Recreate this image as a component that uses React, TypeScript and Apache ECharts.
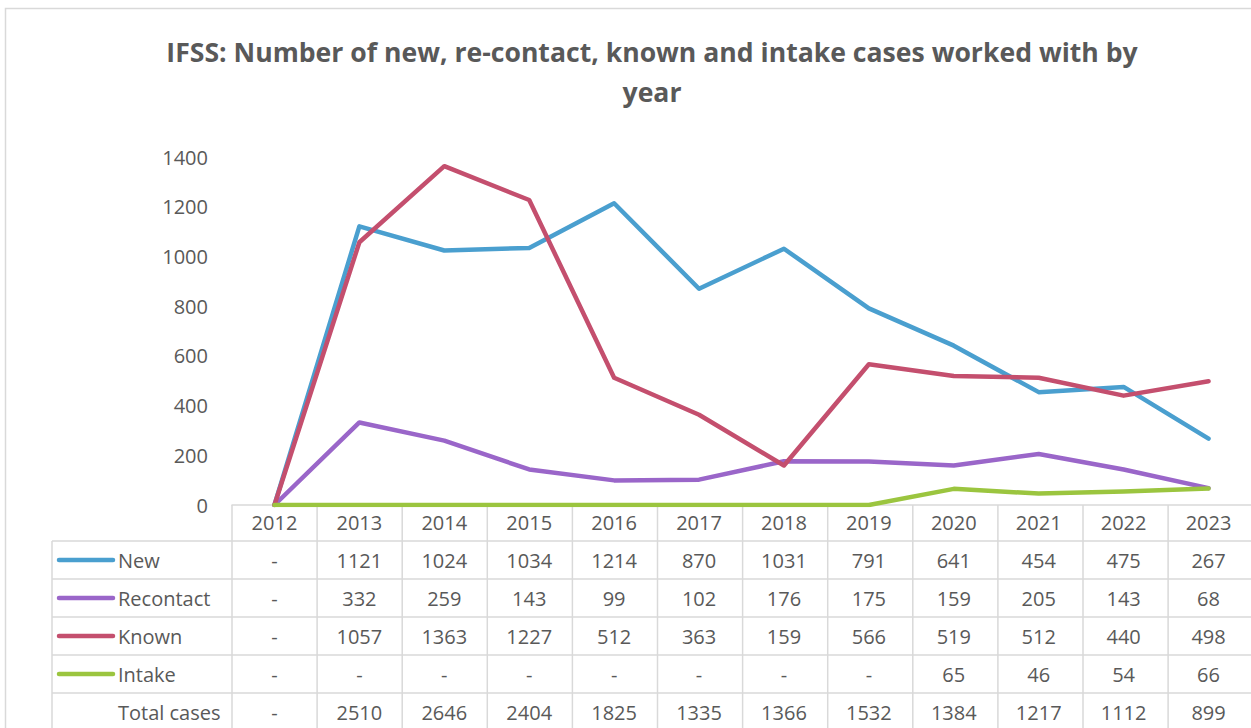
import React, { useEffect, useRef } from "react";
import * as echarts from "echarts";

const years = ["2012", "2013", "2014", "2015", "2016", "2017", "2018", "2019", "2020", "2021", "2022", "2023"];
const newCases = [0, 1121, 1024, 1034, 1214, 870, 1031, 791, 641, 454, 475, 267];
const recontactCases = [0, 332, 259, 143, 99, 102, 176, 175, 159, 205, 143, 68];
const knownCases = [0, 1057, 1363, 1227, 512, 363, 159, 566, 519, 512, 440, 498];
const intakeCases = [0, 0, 0, 0, 0, 0, 0, 0, 65, 46, 54, 66];
const totalCases = [0, 2510, 2646, 2404, 1825, 1335, 1366, 1532, 1384, 1217, 1112, 899];
const yTicks = { min: 0, max: 1400, interval: 200 };

const seriesDefs = [
  { name: "New", data: newCases, color: "#4a9fcf" },
  { name: "Recontact", data: recontactCases, color: "#9a66c9" },
  { name: "Known", data: knownCases, color: "#c44f6e" },
  { name: "Intake", data: intakeCases, color: "#9bc53f" },
];

const FONT = "Open Sans";
const TXT = "#595959";
const BORDER = "#d9d9d9";

export default function App() {
  const ref = useRef<HTMLDivElement>(null);
  useEffect(() => {
    const el = ref.current!;
    const chart = echarts.init(el, null, { renderer: "svg" });
    const gridLeft = 232;
    const gridTop = 157;
    const gridH = 348;
    const colW = 85.1;
    chart.setOption({
      animation: false,
      backgroundColor: "#ffffff",
      title: {
        text: "IFSS: Number of new, re-contact, known and intake cases worked with by\nyear",
        left: 647,
        textAlign: "center",
        top: 27,
        textStyle: { fontFamily: FONT, fontWeight: "bold", fontSize: 26.6, color: TXT, lineHeight: 40 },
      },
      grid: { left: gridLeft, top: gridTop, width: colW * years.length, height: gridH, containLabel: false },
      xAxis: {
        type: "category",
        data: years,
        boundaryGap: true,
        axisLine: { show: true, lineStyle: { color: BORDER, width: 1.5 } },
        axisTick: { show: false },
        axisLabel: { color: TXT, fontFamily: FONT, fontSize: 20, margin: 7, interval: 0 },
        splitLine: { show: false },
      },
      yAxis: {
        type: "value",
        min: yTicks.min,
        max: yTicks.max,
        interval: yTicks.interval,
        axisLine: { show: false },
        axisTick: { show: false },
        splitLine: { show: false },
        axisLabel: { color: TXT, fontFamily: FONT, fontSize: 20, margin: 24, formatter: (v: number) => String(v) },
      },
      series: seriesDefs.map((s) => ({
        name: s.name,
        type: "line",
        data: s.data,
        symbol: "none",
        lineStyle: { color: s.color, width: 4.5, cap: "round", join: "round" },
        itemStyle: { color: s.color },
        z: 3,
      })),
    });

    const centers = years.map((_, i) => chart.convertToPixel({ xAxisIndex: 0 }, i) as number);
    const axisY = gridTop + gridH;
    const headerBottom = 541;
    const rowH = 38;
    const tableLeft = 52;
    const right = gridLeft + colW * years.length;
    const bottom = 740;
    const g: any[] = [];
    const ls = { stroke: BORDER, lineWidth: 1.5 };
    g.push({ type: "rect", shape: { x: 5.5, y: 8.5, width: 1300, height: 800 }, style: { fill: "none", stroke: BORDER, lineWidth: 1.5 }, silent: true });
    for (let i = 0; i <= years.length; i++) {
      const x = gridLeft + colW * i;
      g.push({ type: "line", shape: { x1: x, y1: axisY, x2: x, y2: bottom }, style: ls, silent: true });
    }
    g.push({ type: "line", shape: { x1: tableLeft, y1: headerBottom, x2: tableLeft, y2: bottom }, style: ls, silent: true });
    const rowsCount = seriesDefs.length + 1;
    for (let r = 0; r < rowsCount; r++) {
      const y = headerBottom + rowH * r;
      g.push({ type: "line", shape: { x1: tableLeft, y1: y, x2: right, y2: y }, style: ls, silent: true });
    }
    const fmt = (v: number) => (v === 0 ? "-" : String(v));
    const rows = [...seriesDefs.map((s) => ({ name: s.name, data: s.data, color: s.color as string | null })), { name: "Total cases", data: totalCases, color: null }];
    rows.forEach((row, r) => {
      const cy = headerBottom + rowH * r + rowH / 2;
      if (row.color) {
        g.push({ type: "line", shape: { x1: 59, y1: cy, x2: 113, y2: cy }, style: { stroke: row.color, lineWidth: 4.5, lineCap: "round" }, silent: true });
      }
      g.push({ type: "text", x: 118, y: cy, style: { text: row.name, fill: TXT, font: `20px "${FONT}"`, textAlign: "left", textVerticalAlign: "middle" }, silent: true });
      row.data.forEach((v, i) => {
        g.push({ type: "text", x: centers[i], y: cy, style: { text: fmt(v), fill: TXT, font: `20px "${FONT}"`, textAlign: "center", textVerticalAlign: "middle" }, silent: true });
      });
    });
    chart.setOption({ graphic: g });
    return () => chart.dispose();
  }, []);
  return <div ref={ref} style={{ position: "fixed", left: 0, top: 0, width: 1251, height: 728 }} />;
}
